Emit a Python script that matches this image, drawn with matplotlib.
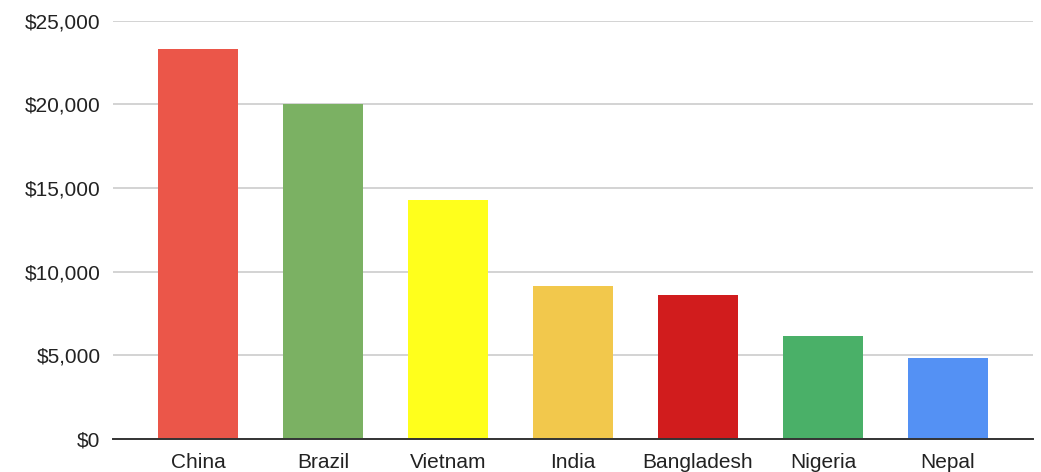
import matplotlib.pyplot as plt
from matplotlib.ticker import FuncFormatter

plt.rcParams['font.family'] = ['Liberation Sans', 'DejaVu Sans']

countries = ['China', 'Brazil', 'Vietnam', 'India', 'Bangladesh', 'Nigeria', 'Nepal']
values = [23300, 20000, 14300, 9150, 8600, 6150, 4830]
colors = ['#EB5649', '#7BB163', '#FFFF1C', '#F2C84C', '#D11C1D', '#4AB068', '#5491F4']
yticks = [0, 5000, 10000, 15000, 20000, 25000]

fig = plt.figure(figsize=(10.41, 4.72), dpi=100)
ax = fig.add_axes([0.1086, 0.0699, 0.8837, 0.8862])

x = list(range(len(countries)))
ax.bar(x, values, width=0.64, color=colors, zorder=3)

ax.set_xlim(-0.68, 6.68)
ax.set_ylim(0, 25000)
ax.set_yticks(yticks)
ax.yaxis.set_major_formatter(FuncFormatter(lambda v, p: '${:,.0f}'.format(v)))
ax.set_xticks(x)
ax.set_xticklabels(countries)

ax.grid(axis='y', color='#cccccc', linewidth=1.2, zorder=0)
for s in ['top', 'right', 'left']:
    ax.spines[s].set_visible(False)
ax.spines['bottom'].set_color('#333333')
ax.spines['bottom'].set_linewidth(1.4)
ax.spines['bottom'].set_zorder(4)
ax.tick_params(axis='both', length=0, labelsize=15, colors='#222222')
ax.tick_params(axis='y', pad=9)
ax.tick_params(axis='x', pad=10)

fig.savefig('out.png', dpi=100)
